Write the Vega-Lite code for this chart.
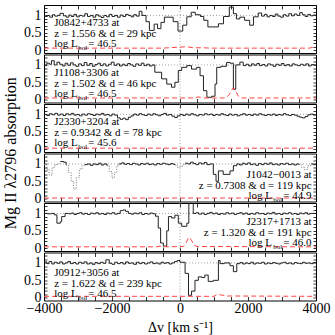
{
"$schema":"https://vega.github.io/schema/vega-lite/v6.json",
"padding":{"left":1,"top":0,"right":4,"bottom":0},
"autosize":{"type":"pad"},
"bounds":"flush",
"spacing":1.5,
"config":{"view":{"stroke":"#000","strokeWidth":1},"axis":{"domain":false,"grid":false,"tickColor":"#000","tickWidth":0.8,"labelFont":"Liberation Serif","labelFontSize":14,"labelColor":"#000","titleFont":"Liberation Serif","titleFontWeight":"normal","titleColor":"#000","labelOverlap":false,"labelFlush":false},"text":{"font":"Liberation Serif","color":"#000","baseline":"top"}},
"datasets":{
"one":[{}],
"flux":[
{"p":1,"v":-4000,"f":0.97},{"p":1,"v":-3900,"f":1.0},{"p":1,"v":-3830,"f":0.95},{"p":1,"v":-3750,"f":1.02},{"p":1,"v":-3680,"f":0.98},{"p":1,"v":-3600,"f":1.0},{"p":1,"v":-3530,"f":1.06},{"p":1,"v":-3430,"f":0.99},{"p":1,"v":-3350,"f":0.95},{"p":1,"v":-3270,"f":1.01},{"p":1,"v":-3200,"f":0.97},{"p":1,"v":-3120,"f":1.03},{"p":1,"v":-3040,"f":0.96},{"p":1,"v":-2960,"f":1.0},{"p":1,"v":-2880,"f":0.98},{"p":1,"v":-2800,"f":1.05},{"p":1,"v":-2720,"f":0.97},{"p":1,"v":-2640,"f":1.0},{"p":1,"v":-2560,"f":0.95},{"p":1,"v":-2480,"f":1.02},{"p":1,"v":-2400,"f":0.98},{"p":1,"v":-2320,"f":0.94},{"p":1,"v":-2240,"f":1.0},{"p":1,"v":-2160,"f":0.96},{"p":1,"v":-2080,"f":1.03},{"p":1,"v":-2000,"f":0.97},{"p":1,"v":-1920,"f":1.0},{"p":1,"v":-1840,"f":0.95},{"p":1,"v":-1760,"f":1.01},{"p":1,"v":-1680,"f":0.97},{"p":1,"v":-1600,"f":1.03},{"p":1,"v":-1520,"f":1.0},{"p":1,"v":-1440,"f":0.96},{"p":1,"v":-1360,"f":1.02},{"p":1,"v":-1280,"f":0.98},{"p":1,"v":-1200,"f":1.12},{"p":1,"v":-1120,"f":1.0},{"p":1,"v":-1000,"f":0.82},{"p":1,"v":-900,"f":0.57},{"p":1,"v":-760,"f":0.75},{"p":1,"v":-660,"f":0.62},{"p":1,"v":-560,"f":0.8},{"p":1,"v":-460,"f":0.95},{"p":1,"v":-200,"f":0.82},{"p":1,"v":-60,"f":0.55},{"p":1,"v":80,"f":0.72},{"p":1,"v":200,"f":0.96},{"p":1,"v":330,"f":1.09},{"p":1,"v":450,"f":1.02},{"p":1,"v":600,"f":0.97},{"p":1,"v":700,"f":0.86},{"p":1,"v":820,"f":0.67},{"p":1,"v":1130,"f":0.76},{"p":1,"v":1280,"f":0.97},{"p":1,"v":1450,"f":1.24},{"p":1,"v":1570,"f":1.05},{"p":1,"v":1660,"f":0.9},{"p":1,"v":1760,"f":0.95},{"p":1,"v":1900,"f":0.86},{"p":1,"v":2050,"f":0.72},{"p":1,"v":2160,"f":0.96},{"p":1,"v":2300,"f":1.07},{"p":1,"v":2400,"f":0.98},{"p":1,"v":2480,"f":1.03},{"p":1,"v":2560,"f":0.96},{"p":1,"v":2640,"f":1.0},{"p":1,"v":2720,"f":0.97},{"p":1,"v":2800,"f":1.04},{"p":1,"v":2880,"f":0.98},{"p":1,"v":2960,"f":0.95},{"p":1,"v":3040,"f":1.02},{"p":1,"v":3120,"f":0.98},{"p":1,"v":3200,"f":1.05},{"p":1,"v":3280,"f":0.99},{"p":1,"v":3360,"f":1.04},{"p":1,"v":3440,"f":1.0},{"p":1,"v":3520,"f":1.08},{"p":1,"v":3600,"f":1.02},{"p":1,"v":3680,"f":0.97},{"p":1,"v":3760,"f":1.03},{"p":1,"v":3840,"f":0.99},{"p":1,"v":3920,"f":1.01},{"p":1,"v":4000,"f":1.01},
{"p":2,"v":-4000,"f":0.98},{"p":2,"v":-3920,"f":1.05},{"p":2,"v":-3840,"f":1.02},{"p":2,"v":-3780,"f":1.12},{"p":2,"v":-3700,"f":1.0},{"p":2,"v":-3620,"f":1.08},{"p":2,"v":-3540,"f":1.02},{"p":2,"v":-3460,"f":0.97},{"p":2,"v":-3380,"f":1.05},{"p":2,"v":-3300,"f":0.99},{"p":2,"v":-3220,"f":1.06},{"p":2,"v":-3140,"f":1.0},{"p":2,"v":-3060,"f":0.96},{"p":2,"v":-2980,"f":1.03},{"p":2,"v":-2900,"f":0.98},{"p":2,"v":-2820,"f":1.07},{"p":2,"v":-2740,"f":0.99},{"p":2,"v":-2660,"f":1.04},{"p":2,"v":-2580,"f":0.96},{"p":2,"v":-2500,"f":1.01},{"p":2,"v":-2420,"f":1.05},{"p":2,"v":-2340,"f":0.98},{"p":2,"v":-2260,"f":1.03},{"p":2,"v":-2180,"f":0.97},{"p":2,"v":-2100,"f":1.02},{"p":2,"v":-2020,"f":1.08},{"p":2,"v":-1940,"f":0.99},{"p":2,"v":-1860,"f":1.03},{"p":2,"v":-1780,"f":0.97},{"p":2,"v":-1700,"f":1.02},{"p":2,"v":-1620,"f":0.98},{"p":2,"v":-1540,"f":1.04},{"p":2,"v":-1460,"f":1.0},{"p":2,"v":-1380,"f":0.96},{"p":2,"v":-1300,"f":1.03},{"p":2,"v":-1220,"f":0.99},{"p":2,"v":-1140,"f":1.05},{"p":2,"v":-1060,"f":0.98},{"p":2,"v":-980,"f":1.02},{"p":2,"v":-900,"f":0.97},{"p":2,"v":-820,"f":1.0},{"p":2,"v":-740,"f":0.79},{"p":2,"v":-540,"f":0.6},{"p":2,"v":-390,"f":0.45},{"p":2,"v":-250,"f":0.36},{"p":2,"v":-150,"f":0.5},{"p":2,"v":-50,"f":0.84},{"p":2,"v":50,"f":0.93},{"p":2,"v":200,"f":0.98},{"p":2,"v":340,"f":0.88},{"p":2,"v":490,"f":0.93},{"p":2,"v":590,"f":0.69},{"p":2,"v":690,"f":0.26},{"p":2,"v":790,"f":0.07},{"p":2,"v":930,"f":0.1},{"p":2,"v":1030,"f":0.45},{"p":2,"v":1080,"f":0.93},{"p":2,"v":1200,"f":0.96},{"p":2,"v":1370,"f":1.07},{"p":2,"v":1470,"f":1.05},{"p":2,"v":1570,"f":0.3},{"p":2,"v":1640,"f":1.0},{"p":2,"v":1760,"f":1.08},{"p":2,"v":1860,"f":0.98},{"p":2,"v":1940,"f":1.02},{"p":2,"v":2020,"f":0.97},{"p":2,"v":2100,"f":1.03},{"p":2,"v":2180,"f":0.99},{"p":2,"v":2260,"f":1.04},{"p":2,"v":2340,"f":0.98},{"p":2,"v":2420,"f":1.01},{"p":2,"v":2500,"f":0.97},{"p":2,"v":2580,"f":1.03},{"p":2,"v":2660,"f":1.0},{"p":2,"v":2740,"f":0.96},{"p":2,"v":2820,"f":1.02},{"p":2,"v":2900,"f":0.99},{"p":2,"v":2980,"f":1.04},{"p":2,"v":3060,"f":0.98},{"p":2,"v":3140,"f":1.01},{"p":2,"v":3220,"f":0.97},{"p":2,"v":3300,"f":1.03},{"p":2,"v":3380,"f":1.0},{"p":2,"v":3460,"f":0.98},{"p":2,"v":3540,"f":1.02},{"p":2,"v":3620,"f":0.99},{"p":2,"v":3700,"f":1.03},{"p":2,"v":3780,"f":0.97},{"p":2,"v":3860,"f":1.01},{"p":2,"v":3940,"f":0.99},{"p":2,"v":4000,"f":0.99},
{"p":3,"v":-4000,"f":1.0},{"p":3,"v":-3920,"f":0.97},{"p":3,"v":-3840,"f":1.02},{"p":3,"v":-3760,"f":0.99},{"p":3,"v":-3680,"f":1.03},{"p":3,"v":-3600,"f":0.98},{"p":3,"v":-3520,"f":1.01},{"p":3,"v":-3440,"f":0.97},{"p":3,"v":-3360,"f":1.02},{"p":3,"v":-3280,"f":0.99},{"p":3,"v":-3200,"f":1.03},{"p":3,"v":-3120,"f":0.98},{"p":3,"v":-3040,"f":1.0},{"p":3,"v":-2960,"f":0.96},{"p":3,"v":-2880,"f":1.01},{"p":3,"v":-2800,"f":0.98},{"p":3,"v":-2720,"f":1.02},{"p":3,"v":-2640,"f":1.0},{"p":3,"v":-2560,"f":0.97},{"p":3,"v":-2480,"f":1.01},{"p":3,"v":-2400,"f":0.99},{"p":3,"v":-2320,"f":1.03},{"p":3,"v":-2240,"f":0.98},{"p":3,"v":-2160,"f":1.0},{"p":3,"v":-2080,"f":0.96},{"p":3,"v":-2000,"f":1.01},{"p":3,"v":-1920,"f":0.98},{"p":3,"v":-1840,"f":0.9},{"p":3,"v":-1760,"f":0.86},{"p":3,"v":-1680,"f":0.89},{"p":3,"v":-1600,"f":0.85},{"p":3,"v":-1520,"f":0.92},{"p":3,"v":-1440,"f":0.96},{"p":3,"v":-1360,"f":1.01},{"p":3,"v":-1280,"f":0.98},{"p":3,"v":-1200,"f":1.02},{"p":3,"v":-1120,"f":0.99},{"p":3,"v":-1040,"f":0.97},{"p":3,"v":-960,"f":1.01},{"p":3,"v":-880,"f":0.98},{"p":3,"v":-800,"f":1.02},{"p":3,"v":-720,"f":0.99},{"p":3,"v":-640,"f":0.96},{"p":3,"v":-560,"f":1.0},{"p":3,"v":-480,"f":1.03},{"p":3,"v":-400,"f":0.98},{"p":3,"v":-320,"f":1.0},{"p":3,"v":-240,"f":0.95},{"p":3,"v":-160,"f":0.91},{"p":3,"v":-80,"f":0.96},{"p":3,"v":0,"f":1.0},{"p":3,"v":80,"f":0.97},{"p":3,"v":160,"f":1.01},{"p":3,"v":240,"f":0.98},{"p":3,"v":320,"f":1.02},{"p":3,"v":400,"f":0.99},{"p":3,"v":480,"f":0.96},{"p":3,"v":560,"f":1.0},{"p":3,"v":640,"f":0.98},{"p":3,"v":720,"f":1.02},{"p":3,"v":800,"f":0.99},{"p":3,"v":880,"f":1.01},{"p":3,"v":960,"f":0.97},{"p":3,"v":1040,"f":1.0},{"p":3,"v":1120,"f":0.98},{"p":3,"v":1200,"f":1.02},{"p":3,"v":1280,"f":0.99},{"p":3,"v":1360,"f":0.97},{"p":3,"v":1440,"f":1.01},{"p":3,"v":1520,"f":0.98},{"p":3,"v":1600,"f":1.0},{"p":3,"v":1680,"f":0.96},{"p":3,"v":1760,"f":0.99},{"p":3,"v":1840,"f":1.02},{"p":3,"v":1920,"f":0.98},{"p":3,"v":2000,"f":1.0},{"p":3,"v":2080,"f":0.97},{"p":3,"v":2160,"f":1.01},{"p":3,"v":2240,"f":0.98},{"p":3,"v":2320,"f":1.02},{"p":3,"v":2400,"f":0.99},{"p":3,"v":2480,"f":0.97},{"p":3,"v":2560,"f":1.0},{"p":3,"v":2640,"f":0.98},{"p":3,"v":2720,"f":1.01},{"p":3,"v":2800,"f":0.97},{"p":3,"v":2880,"f":1.0},{"p":3,"v":2960,"f":0.98},{"p":3,"v":3040,"f":1.02},{"p":3,"v":3120,"f":0.99},{"p":3,"v":3200,"f":0.97},{"p":3,"v":3280,"f":1.0},{"p":3,"v":3360,"f":0.98},{"p":3,"v":3440,"f":0.95},{"p":3,"v":3520,"f":0.92},{"p":3,"v":3600,"f":0.9},{"p":3,"v":3680,"f":0.94},{"p":3,"v":3760,"f":0.99},{"p":3,"v":3840,"f":1.01},{"p":3,"v":3920,"f":0.98},{"p":3,"v":4000,"f":0.98},
{"p":4,"g":"d1","m":1,"v":-4000,"f":0.98},{"p":4,"g":"d1","m":1,"v":-3920,"f":0.85},{"p":4,"g":"d1","m":1,"v":-3850,"f":0.68},{"p":4,"g":"d1","m":1,"v":-3760,"f":0.9},{"p":4,"g":"d1","m":1,"v":-3680,"f":0.98},{"p":4,"g":"d1","m":1,"v":-3600,"f":1.0},{"p":4,"g":"d1","m":1,"v":-3520,"f":1.07},
{"p":4,"g":"s1","v":-3520,"f":1.07},{"p":4,"g":"s1","v":-3420,"f":1.05},{"p":4,"g":"s1","v":-3350,"f":0.97},
{"p":4,"g":"d2","m":1,"v":-3350,"f":0.97},{"p":4,"g":"d2","m":1,"v":-3280,"f":0.75},{"p":4,"g":"d2","m":1,"v":-3200,"f":0.5},{"p":4,"g":"d2","m":1,"v":-3130,"f":0.28},{"p":4,"g":"d2","m":1,"v":-3050,"f":0.6},{"p":4,"g":"d2","m":1,"v":-2960,"f":0.85},{"p":4,"g":"d2","m":1,"v":-2880,"f":0.95},{"p":4,"g":"d2","m":1,"v":-2800,"f":0.98},
{"p":4,"g":"s2","v":-2800,"f":0.98},{"p":4,"g":"s2","v":-2720,"f":1.0},{"p":4,"g":"s2","v":-2640,"f":0.96},{"p":4,"g":"s2","v":-2560,"f":1.0},{"p":4,"g":"s2","v":-2480,"f":0.98},{"p":4,"g":"s2","v":-2400,"f":1.02},{"p":4,"g":"s2","v":-2320,"f":0.97},{"p":4,"g":"s2","v":-2240,"f":1.0},{"p":4,"g":"s2","v":-2150,"f":0.95},
{"p":4,"g":"d3","m":1,"v":-2150,"f":0.95},{"p":4,"g":"d3","m":1,"v":-2080,"f":0.78},{"p":4,"g":"d3","m":1,"v":-2000,"f":0.6},{"p":4,"g":"d3","m":1,"v":-1930,"f":0.75},{"p":4,"g":"d3","m":1,"v":-1860,"f":0.95},{"p":4,"g":"d3","m":1,"v":-1800,"f":1.0},
{"p":4,"g":"s3","v":-1800,"f":1.0},{"p":4,"g":"s3","v":-1720,"f":1.03},{"p":4,"g":"s3","v":-1640,"f":0.99},{"p":4,"g":"s3","v":-1560,"f":1.01},{"p":4,"g":"s3","v":-1480,"f":0.98},{"p":4,"g":"s3","v":-1400,"f":1.02},{"p":4,"g":"s3","v":-1320,"f":1.0},{"p":4,"g":"s3","v":-1240,"f":0.97},{"p":4,"g":"s3","v":-1160,"f":1.01},{"p":4,"g":"s3","v":-1080,"f":0.99},{"p":4,"g":"s3","v":-1000,"f":1.02},{"p":4,"g":"s3","v":-920,"f":0.98},{"p":4,"g":"s3","v":-840,"f":1.0},{"p":4,"g":"s3","v":-760,"f":0.97},{"p":4,"g":"s3","v":-680,"f":1.01},{"p":4,"g":"s3","v":-600,"f":0.99},{"p":4,"g":"s3","v":-520,"f":1.02},{"p":4,"g":"s3","v":-440,"f":1.0},{"p":4,"g":"s3","v":-360,"f":0.98},{"p":4,"g":"s3","v":-280,"f":1.01},{"p":4,"g":"s3","v":-200,"f":0.99},{"p":4,"g":"s3","v":-150,"f":0.97},
{"p":4,"g":"d4","m":1,"v":-150,"f":0.97},{"p":4,"g":"d4","m":1,"v":-80,"f":0.9},{"p":4,"g":"d4","m":1,"v":0,"f":0.93},{"p":4,"g":"d4","m":1,"v":80,"f":0.97},{"p":4,"g":"d4","m":1,"v":150,"f":1.02},
{"p":4,"g":"s4","v":150,"f":1.02},{"p":4,"g":"s4","v":230,"f":1.0},{"p":4,"g":"s4","v":310,"f":1.05},{"p":4,"g":"s4","v":390,"f":1.01},{"p":4,"g":"s4","v":470,"f":0.98},{"p":4,"g":"s4","v":550,"f":1.03},{"p":4,"g":"s4","v":630,"f":1.0},{"p":4,"g":"s4","v":710,"f":1.04},{"p":4,"g":"s4","v":790,"f":0.98},{"p":4,"g":"s4","v":880,"f":1.0},{"p":4,"g":"s4","v":980,"f":0.7},{"p":4,"g":"s4","v":1060,"f":0.5},{"p":4,"g":"s4","v":1130,"f":0.8},{"p":4,"g":"s4","v":1270,"f":0.7},{"p":4,"g":"s4","v":1470,"f":0.8},{"p":4,"g":"s4","v":1570,"f":0.95},{"p":4,"g":"s4","v":1670,"f":1.0},{"p":4,"g":"s4","v":1750,"f":0.97},{"p":4,"g":"s4","v":1830,"f":1.02},{"p":4,"g":"s4","v":1910,"f":0.99},{"p":4,"g":"s4","v":1990,"f":1.03},{"p":4,"g":"s4","v":2070,"f":0.98},{"p":4,"g":"s4","v":2150,"f":1.0},{"p":4,"g":"s4","v":2230,"f":0.96},{"p":4,"g":"s4","v":2310,"f":1.01},{"p":4,"g":"s4","v":2390,"f":0.98},{"p":4,"g":"s4","v":2470,"f":1.02},{"p":4,"g":"s4","v":2550,"f":0.99},{"p":4,"g":"s4","v":2630,"f":1.03},{"p":4,"g":"s4","v":2710,"f":0.98},{"p":4,"g":"s4","v":2790,"f":1.0},{"p":4,"g":"s4","v":2870,"f":0.97},{"p":4,"g":"s4","v":2950,"f":1.01},{"p":4,"g":"s4","v":3030,"f":0.99},{"p":4,"g":"s4","v":3110,"f":1.02},{"p":4,"g":"s4","v":3190,"f":0.98},{"p":4,"g":"s4","v":3270,"f":1.0},{"p":4,"g":"s4","v":3350,"f":0.97},{"p":4,"g":"s4","v":3430,"f":1.0},{"p":4,"g":"s4","v":3500,"f":0.98},
{"p":4,"g":"d5","m":1,"v":3500,"f":0.98},{"p":4,"g":"d5","m":1,"v":3580,"f":0.9},{"p":4,"g":"d5","m":1,"v":3660,"f":0.84},{"p":4,"g":"d5","m":1,"v":3760,"f":0.95},{"p":4,"g":"d5","m":1,"v":3850,"f":1.0},
{"p":4,"g":"s5","v":3850,"f":1.0},{"p":4,"g":"s5","v":3920,"f":0.98},{"p":4,"g":"s5","v":4000,"f":0.98},
{"p":5,"v":-4000,"f":1.0},{"p":5,"v":-3900,"f":0.99},{"p":5,"v":-3780,"f":1.0},{"p":5,"v":-3700,"f":0.96},{"p":5,"v":-3620,"f":0.72},{"p":5,"v":-3520,"f":0.76},{"p":5,"v":-3480,"f":0.91},{"p":5,"v":-3380,"f":1.0},{"p":5,"v":-3280,"f":0.99},{"p":5,"v":-3200,"f":1.01},{"p":5,"v":-3120,"f":0.97},{"p":5,"v":-3040,"f":1.0},{"p":5,"v":-2960,"f":1.02},{"p":5,"v":-2880,"f":0.98},{"p":5,"v":-2800,"f":1.0},{"p":5,"v":-2720,"f":0.97},{"p":5,"v":-2640,"f":1.01},{"p":5,"v":-2560,"f":0.99},{"p":5,"v":-2480,"f":1.02},{"p":5,"v":-2400,"f":0.98},{"p":5,"v":-2320,"f":1.0},{"p":5,"v":-2240,"f":0.97},{"p":5,"v":-2160,"f":1.01},{"p":5,"v":-2080,"f":0.99},{"p":5,"v":-2000,"f":1.02},{"p":5,"v":-1920,"f":0.98},{"p":5,"v":-1840,"f":1.0},{"p":5,"v":-1760,"f":1.08},{"p":5,"v":-1680,"f":1.1},{"p":5,"v":-1600,"f":1.06},{"p":5,"v":-1520,"f":1.0},{"p":5,"v":-1440,"f":0.98},{"p":5,"v":-1360,"f":1.01},{"p":5,"v":-1280,"f":0.99},{"p":5,"v":-1200,"f":1.02},{"p":5,"v":-1120,"f":0.97},{"p":5,"v":-1040,"f":1.0},{"p":5,"v":-960,"f":0.98},{"p":5,"v":-880,"f":1.01},{"p":5,"v":-800,"f":0.99},{"p":5,"v":-720,"f":0.92},{"p":5,"v":-640,"f":0.58},{"p":5,"v":-570,"f":0.15},{"p":5,"v":-490,"f":0.06},{"p":5,"v":-390,"f":0.5},{"p":5,"v":-340,"f":0.91},{"p":5,"v":-250,"f":0.87},{"p":5,"v":-150,"f":0.95},{"p":5,"v":-50,"f":0.72},{"p":5,"v":50,"f":0.63},{"p":5,"v":200,"f":0.72},{"p":5,"v":260,"f":1.6},{"p":5,"v":390,"f":1.0},{"p":5,"v":470,"f":1.02},{"p":5,"v":550,"f":0.98},{"p":5,"v":630,"f":1.01},{"p":5,"v":710,"f":0.97},{"p":5,"v":790,"f":1.0},{"p":5,"v":870,"f":1.03},{"p":5,"v":950,"f":0.99},{"p":5,"v":1030,"f":1.01},{"p":5,"v":1110,"f":0.97},{"p":5,"v":1190,"f":1.0},{"p":5,"v":1270,"f":0.98},{"p":5,"v":1350,"f":1.02},{"p":5,"v":1430,"f":0.99},{"p":5,"v":1510,"f":1.01},{"p":5,"v":1590,"f":0.97},{"p":5,"v":1670,"f":1.0},{"p":5,"v":1750,"f":1.02},{"p":5,"v":1830,"f":0.98},{"p":5,"v":1910,"f":1.01},{"p":5,"v":1990,"f":0.97},{"p":5,"v":2070,"f":1.0},{"p":5,"v":2150,"f":0.98},{"p":5,"v":2230,"f":1.02},{"p":5,"v":2310,"f":0.99},{"p":5,"v":2390,"f":1.0},{"p":5,"v":2470,"f":0.97},{"p":5,"v":2550,"f":1.01},{"p":5,"v":2630,"f":0.99},{"p":5,"v":2710,"f":1.03},{"p":5,"v":2790,"f":0.98},{"p":5,"v":2870,"f":1.0},{"p":5,"v":2950,"f":0.97},{"p":5,"v":3030,"f":1.01},{"p":5,"v":3110,"f":0.99},{"p":5,"v":3190,"f":1.02},{"p":5,"v":3270,"f":0.98},{"p":5,"v":3350,"f":1.0},{"p":5,"v":3430,"f":0.97},{"p":5,"v":3510,"f":1.01},{"p":5,"v":3590,"f":0.99},{"p":5,"v":3670,"f":1.02},{"p":5,"v":3750,"f":0.98},{"p":5,"v":3830,"f":1.0},{"p":5,"v":3910,"f":1.0},{"p":5,"v":4000,"f":1.0},
{"p":6,"v":-4000,"f":1.03},{"p":6,"v":-3920,"f":0.98},{"p":6,"v":-3850,"f":1.04},{"p":6,"v":-3770,"f":0.97},{"p":6,"v":-3700,"f":1.02},{"p":6,"v":-3620,"f":0.99},{"p":6,"v":-3540,"f":1.03},{"p":6,"v":-3460,"f":0.97},{"p":6,"v":-3380,"f":1.0},{"p":6,"v":-3300,"f":1.04},{"p":6,"v":-3220,"f":0.98},{"p":6,"v":-3140,"f":1.01},{"p":6,"v":-3060,"f":0.97},{"p":6,"v":-2980,"f":1.02},{"p":6,"v":-2900,"f":0.99},{"p":6,"v":-2820,"f":1.03},{"p":6,"v":-2740,"f":0.97},{"p":6,"v":-2660,"f":1.0},{"p":6,"v":-2580,"f":0.96},{"p":6,"v":-2500,"f":1.01},{"p":6,"v":-2420,"f":0.98},{"p":6,"v":-2340,"f":1.02},{"p":6,"v":-2260,"f":0.99},{"p":6,"v":-2180,"f":1.09},{"p":6,"v":-2080,"f":0.99},{"p":6,"v":-2000,"f":0.96},{"p":6,"v":-1920,"f":1.02},{"p":6,"v":-1840,"f":0.98},{"p":6,"v":-1760,"f":1.01},{"p":6,"v":-1680,"f":0.97},{"p":6,"v":-1600,"f":1.03},{"p":6,"v":-1520,"f":0.99},{"p":6,"v":-1440,"f":1.0},{"p":6,"v":-1360,"f":0.96},{"p":6,"v":-1280,"f":1.02},{"p":6,"v":-1200,"f":0.98},{"p":6,"v":-1120,"f":1.01},{"p":6,"v":-1040,"f":0.97},{"p":6,"v":-960,"f":1.0},{"p":6,"v":-880,"f":1.03},{"p":6,"v":-800,"f":0.98},{"p":6,"v":-720,"f":1.0},{"p":6,"v":-640,"f":0.97},{"p":6,"v":-560,"f":1.02},{"p":6,"v":-480,"f":0.99},{"p":6,"v":-400,"f":1.01},{"p":6,"v":-320,"f":0.97},{"p":6,"v":-240,"f":1.0},{"p":6,"v":-160,"f":1.04},{"p":6,"v":-80,"f":1.07},{"p":6,"v":0,"f":1.02},{"p":6,"v":150,"f":0.7},{"p":6,"v":250,"f":0.07},{"p":6,"v":340,"f":0.19},{"p":6,"v":440,"f":0.5},{"p":6,"v":540,"f":0.6},{"p":6,"v":640,"f":0.58},{"p":6,"v":730,"f":0.65},{"p":6,"v":830,"f":0.47},{"p":6,"v":980,"f":0.5},{"p":6,"v":1130,"f":1.07},{"p":6,"v":1180,"f":0.98},{"p":6,"v":1300,"f":1.0},{"p":6,"v":1470,"f":0.92},{"p":6,"v":1570,"f":0.75},{"p":6,"v":1670,"f":0.98},{"p":6,"v":1760,"f":1.01},{"p":6,"v":1840,"f":0.97},{"p":6,"v":1920,"f":1.0},{"p":6,"v":2000,"f":0.98},{"p":6,"v":2080,"f":1.02},{"p":6,"v":2160,"f":0.97},{"p":6,"v":2240,"f":1.0},{"p":6,"v":2320,"f":0.99},{"p":6,"v":2400,"f":1.02},{"p":6,"v":2480,"f":0.97},{"p":6,"v":2560,"f":1.0},{"p":6,"v":2640,"f":0.98},{"p":6,"v":2720,"f":1.01},{"p":6,"v":2800,"f":0.99},{"p":6,"v":2880,"f":0.97},{"p":6,"v":2960,"f":1.0},{"p":6,"v":3040,"f":1.02},{"p":6,"v":3120,"f":0.98},{"p":6,"v":3200,"f":1.0},{"p":6,"v":3280,"f":0.97},{"p":6,"v":3360,"f":1.01},{"p":6,"v":3440,"f":0.99},{"p":6,"v":3520,"f":0.98},{"p":6,"v":3600,"f":1.02},{"p":6,"v":3680,"f":0.99},{"p":6,"v":3760,"f":1.0},{"p":6,"v":3840,"f":0.98},{"p":6,"v":3920,"f":1.01},{"p":6,"v":4000,"f":1.01}
],
"err":[
{"p":1,"v":-4000,"e":0.06},{"p":1,"v":-500,"e":0.06},{"p":1,"v":0,"e":0.09},{"p":1,"v":200,"e":0.1},{"p":1,"v":400,"e":0.07},{"p":1,"v":700,"e":0.07},{"p":1,"v":900,"e":0.06},{"p":1,"v":3800,"e":0.06},{"p":1,"v":3950,"e":0.09},{"p":1,"v":4000,"e":0.1},
{"p":2,"v":-4000,"e":0.05},{"p":2,"v":400,"e":0.05},{"p":2,"v":550,"e":0.08},{"p":2,"v":700,"e":0.05},{"p":2,"v":1350,"e":0.05},{"p":2,"v":1450,"e":0.15},{"p":2,"v":1550,"e":0.33},{"p":2,"v":1620,"e":0.3},{"p":2,"v":1700,"e":0.12},{"p":2,"v":1800,"e":0.05},{"p":2,"v":4000,"e":0.05},
{"p":3,"v":-4000,"e":0.03},{"p":3,"v":4000,"e":0.03},
{"p":4,"v":-4000,"e":0.02},{"p":4,"v":4000,"e":0.02},
{"p":5,"v":-4000,"e":0.04},{"p":5,"v":-700,"e":0.04},{"p":5,"v":-550,"e":0.06},{"p":5,"v":-400,"e":0.04},{"p":5,"v":100,"e":0.05},{"p":5,"v":180,"e":0.15},{"p":5,"v":250,"e":0.31},{"p":5,"v":330,"e":0.25},{"p":5,"v":400,"e":0.1},{"p":5,"v":500,"e":0.05},{"p":5,"v":4000,"e":0.04},
{"p":6,"v":-4000,"e":0.04},{"p":6,"v":1000,"e":0.04},{"p":6,"v":1100,"e":0.1},{"p":6,"v":1200,"e":0.08},{"p":6,"v":1400,"e":0.05},{"p":6,"v":4000,"e":0.04}
]
},
"vconcat":[
{"width":272,"height":48,"resolve":{"axis":{"x":"independent","y":"independent"}},"layer":[
{"data":{"name":"one"},"mark":{"type":"rule","color":"#888","strokeDash":[1,2],"strokeWidth":0.8},"encoding":{"y":{"datum":1,"axis":null}}},
{"data":{"name":"one"},"mark":{"type":"rule","color":"#888","strokeDash":[1,2],"strokeWidth":0.8},"encoding":{"x":{"datum":0,"axis":null}}},
{"data":{"name":"flux"},"transform":[{"filter":"datum.p==1 && !datum.m"}],"mark":{"type":"line","interpolate":"step-after","color":"#222","strokeWidth":1,"clip":true},"encoding":{"x":{"field":"v","type":"quantitative","scale":{"domain":[-4000,4000],"nice":false},"axis":{"orient":"bottom","values":[-4000,-3500,-3000,-2500,-2000,-1500,-1000,-500,0,500,1000,1500,2000,2500,3000,3500,4000],"labels":false,"title":null,"tickSize":-4}},"y":{"field":"f","type":"quantitative","scale":{"domain":[-0.08,1.3],"nice":false,"zero":false},"axis":{"orient":"left","values":[0,0.1,0.2,0.3,0.4,0.5,0.6,0.7,0.8,0.9,1,1.1,1.2],"labelExpr":"datum.value==0?'0':datum.value==0.5?'0.5':datum.value==1?'1':''","tickSize":-3,"labelPadding":6,"title":null}},"detail":{"field":"g"}}},
{"data":{"name":"flux"},"transform":[{"filter":"datum.p==1 && datum.m"}],"mark":{"type":"line","interpolate":"step-after","color":"#777","strokeDash":[1,1.5],"strokeWidth":1,"clip":true},"encoding":{"x":{"field":"v","type":"quantitative","scale":{"domain":[-4000,4000],"nice":false},"axis":{"orient":"top","values":[-4000,-3500,-3000,-2500,-2000,-1500,-1000,-500,0,500,1000,1500,2000,2500,3000,3500,4000],"labels":false,"title":null,"tickSize":-4}},"y":{"field":"f","type":"quantitative","scale":{"domain":[-0.08,1.3],"nice":false,"zero":false},"axis":{"orient":"right","values":[0,0.1,0.2,0.3,0.4,0.5,0.6,0.7,0.8,0.9,1,1.1,1.2],"labels":false,"tickSize":-3,"title":null}},"detail":{"field":"g"}}},
{"data":{"name":"err"},"transform":[{"filter":"datum.p==1"}],"mark":{"type":"line","color":"#ff4444","strokeDash":[5,3],"strokeWidth":1,"clip":true},"encoding":{"x":{"field":"v","type":"quantitative","axis":null},"y":{"field":"e","type":"quantitative","axis":null}}},
{"data":{"name":"one"},"mark":{"type":"text","align":"left","fontSize":11,"lineHeight":10.5},"encoding":{"x":{"datum":-3700,"axis":null},"y":{"datum":0.95,"axis":null},"text":{"value":["J0842+4733 at","z = 1.556 & d = 29 kpc"]}}},
{"data":{"name":"one"},"mark":{"type":"text","align":"left","fontSize":11,"dy":21},"encoding":{"x":{"datum":-3700,"axis":null},"y":{"datum":0.95,"axis":null},"text":{"value":"log L"}}},
{"data":{"name":"one"},"mark":{"type":"text","align":"left","fontSize":7,"dx":24,"dy":26.5},"encoding":{"x":{"datum":-3700,"axis":null},"y":{"datum":0.95,"axis":null},"text":{"value":"bol"}}},
{"data":{"name":"one"},"mark":{"type":"text","align":"left","fontSize":11,"dx":34,"dy":21},"encoding":{"x":{"datum":-3700,"axis":null},"y":{"datum":0.95,"axis":null},"text":{"value":"= 46.5"}}}
]},
{"width":272,"height":48,"resolve":{"axis":{"x":"independent","y":"independent"}},"layer":[
{"data":{"name":"one"},"mark":{"type":"rule","color":"#888","strokeDash":[1,2],"strokeWidth":0.8},"encoding":{"y":{"datum":1,"axis":null}}},
{"data":{"name":"one"},"mark":{"type":"rule","color":"#888","strokeDash":[1,2],"strokeWidth":0.8},"encoding":{"x":{"datum":0,"axis":null}}},
{"data":{"name":"flux"},"transform":[{"filter":"datum.p==2 && !datum.m"}],"mark":{"type":"line","interpolate":"step-after","color":"#222","strokeWidth":1,"clip":true},"encoding":{"x":{"field":"v","type":"quantitative","scale":{"domain":[-4000,4000],"nice":false},"axis":{"orient":"bottom","values":[-4000,-3500,-3000,-2500,-2000,-1500,-1000,-500,0,500,1000,1500,2000,2500,3000,3500,4000],"labels":false,"title":null,"tickSize":-4}},"y":{"field":"f","type":"quantitative","scale":{"domain":[-0.08,1.3],"nice":false,"zero":false},"axis":{"orient":"left","values":[0,0.1,0.2,0.3,0.4,0.5,0.6,0.7,0.8,0.9,1,1.1,1.2],"labelExpr":"datum.value==0?'0':datum.value==0.5?'0.5':datum.value==1?'1':''","tickSize":-3,"labelPadding":6,"title":null}},"detail":{"field":"g"}}},
{"data":{"name":"flux"},"transform":[{"filter":"datum.p==2 && datum.m"}],"mark":{"type":"line","interpolate":"step-after","color":"#777","strokeDash":[1,1.5],"strokeWidth":1,"clip":true},"encoding":{"x":{"field":"v","type":"quantitative","scale":{"domain":[-4000,4000],"nice":false},"axis":{"orient":"top","values":[-4000,-3500,-3000,-2500,-2000,-1500,-1000,-500,0,500,1000,1500,2000,2500,3000,3500,4000],"labels":false,"title":null,"tickSize":-4}},"y":{"field":"f","type":"quantitative","scale":{"domain":[-0.08,1.3],"nice":false,"zero":false},"axis":{"orient":"right","values":[0,0.1,0.2,0.3,0.4,0.5,0.6,0.7,0.8,0.9,1,1.1,1.2],"labels":false,"tickSize":-3,"title":null}},"detail":{"field":"g"}}},
{"data":{"name":"err"},"transform":[{"filter":"datum.p==2"}],"mark":{"type":"line","color":"#ff4444","strokeDash":[5,3],"strokeWidth":1,"clip":true},"encoding":{"x":{"field":"v","type":"quantitative","axis":null},"y":{"field":"e","type":"quantitative","axis":null}}},
{"data":{"name":"one"},"mark":{"type":"text","align":"left","fontSize":11,"lineHeight":10.5},"encoding":{"x":{"datum":-3700,"axis":null},"y":{"datum":0.94,"axis":null},"text":{"value":["J1108+3306 at","z = 1.502 & d = 46 kpc"]}}},
{"data":{"name":"one"},"mark":{"type":"text","align":"left","fontSize":11,"dy":21},"encoding":{"x":{"datum":-3700,"axis":null},"y":{"datum":0.94,"axis":null},"text":{"value":"log L"}}},
{"data":{"name":"one"},"mark":{"type":"text","align":"left","fontSize":7,"dx":24,"dy":26.5},"encoding":{"x":{"datum":-3700,"axis":null},"y":{"datum":0.94,"axis":null},"text":{"value":"bol"}}},
{"data":{"name":"one"},"mark":{"type":"text","align":"left","fontSize":11,"dx":34,"dy":21},"encoding":{"x":{"datum":-3700,"axis":null},"y":{"datum":0.94,"axis":null},"text":{"value":"= 46.5"}}}
]},
{"width":272,"height":48,"resolve":{"axis":{"x":"independent","y":"independent"}},"layer":[
{"data":{"name":"one"},"mark":{"type":"rule","color":"#888","strokeDash":[1,2],"strokeWidth":0.8},"encoding":{"y":{"datum":1,"axis":null}}},
{"data":{"name":"one"},"mark":{"type":"rule","color":"#888","strokeDash":[1,2],"strokeWidth":0.8},"encoding":{"x":{"datum":0,"axis":null}}},
{"data":{"name":"flux"},"transform":[{"filter":"datum.p==3 && !datum.m"}],"mark":{"type":"line","interpolate":"step-after","color":"#222","strokeWidth":1,"clip":true},"encoding":{"x":{"field":"v","type":"quantitative","scale":{"domain":[-4000,4000],"nice":false},"axis":{"orient":"bottom","values":[-4000,-3500,-3000,-2500,-2000,-1500,-1000,-500,0,500,1000,1500,2000,2500,3000,3500,4000],"labels":false,"title":null,"tickSize":-4}},"y":{"field":"f","type":"quantitative","scale":{"domain":[-0.08,1.3],"nice":false,"zero":false},"axis":{"orient":"left","values":[0,0.1,0.2,0.3,0.4,0.5,0.6,0.7,0.8,0.9,1,1.1,1.2],"labelExpr":"datum.value==0?'0':datum.value==0.5?'0.5':datum.value==1?'1':''","tickSize":-3,"labelPadding":6,"title":"Mg II λ2796 absorption","titleFontSize":16,"titleY":48.75,"titlePadding":5}},"detail":{"field":"g"}}},
{"data":{"name":"flux"},"transform":[{"filter":"datum.p==3 && datum.m"}],"mark":{"type":"line","interpolate":"step-after","color":"#777","strokeDash":[1,1.5],"strokeWidth":1,"clip":true},"encoding":{"x":{"field":"v","type":"quantitative","scale":{"domain":[-4000,4000],"nice":false},"axis":{"orient":"top","values":[-4000,-3500,-3000,-2500,-2000,-1500,-1000,-500,0,500,1000,1500,2000,2500,3000,3500,4000],"labels":false,"title":null,"tickSize":-4}},"y":{"field":"f","type":"quantitative","scale":{"domain":[-0.08,1.3],"nice":false,"zero":false},"axis":{"orient":"right","values":[0,0.1,0.2,0.3,0.4,0.5,0.6,0.7,0.8,0.9,1,1.1,1.2],"labels":false,"tickSize":-3,"title":null}},"detail":{"field":"g"}}},
{"data":{"name":"err"},"transform":[{"filter":"datum.p==3"}],"mark":{"type":"line","color":"#ff4444","strokeDash":[5,3],"strokeWidth":1,"clip":true},"encoding":{"x":{"field":"v","type":"quantitative","axis":null},"y":{"field":"e","type":"quantitative","axis":null}}},
{"data":{"name":"one"},"mark":{"type":"text","align":"left","fontSize":11,"lineHeight":10.5},"encoding":{"x":{"datum":-3700,"axis":null},"y":{"datum":0.95,"axis":null},"text":{"value":["J2330+3204 at","z = 0.9342 & d = 78 kpc"]}}},
{"data":{"name":"one"},"mark":{"type":"text","align":"left","fontSize":11,"dy":21},"encoding":{"x":{"datum":-3700,"axis":null},"y":{"datum":0.95,"axis":null},"text":{"value":"log L"}}},
{"data":{"name":"one"},"mark":{"type":"text","align":"left","fontSize":7,"dx":24,"dy":26.5},"encoding":{"x":{"datum":-3700,"axis":null},"y":{"datum":0.95,"axis":null},"text":{"value":"bol"}}},
{"data":{"name":"one"},"mark":{"type":"text","align":"left","fontSize":11,"dx":34,"dy":21},"encoding":{"x":{"datum":-3700,"axis":null},"y":{"datum":0.95,"axis":null},"text":{"value":"= 45.6"}}}
]},
{"width":272,"height":48,"resolve":{"axis":{"x":"independent","y":"independent"}},"layer":[
{"data":{"name":"one"},"mark":{"type":"rule","color":"#888","strokeDash":[1,2],"strokeWidth":0.8},"encoding":{"y":{"datum":1,"axis":null}}},
{"data":{"name":"one"},"mark":{"type":"rule","color":"#888","strokeDash":[1,2],"strokeWidth":0.8},"encoding":{"x":{"datum":0,"axis":null}}},
{"data":{"name":"flux"},"transform":[{"filter":"datum.p==4 && !datum.m"}],"mark":{"type":"line","interpolate":"step-after","color":"#222","strokeWidth":1,"clip":true},"encoding":{"x":{"field":"v","type":"quantitative","scale":{"domain":[-4000,4000],"nice":false},"axis":{"orient":"bottom","values":[-4000,-3500,-3000,-2500,-2000,-1500,-1000,-500,0,500,1000,1500,2000,2500,3000,3500,4000],"labels":false,"title":null,"tickSize":-4}},"y":{"field":"f","type":"quantitative","scale":{"domain":[-0.08,1.3],"nice":false,"zero":false},"axis":{"orient":"left","values":[0,0.1,0.2,0.3,0.4,0.5,0.6,0.7,0.8,0.9,1,1.1,1.2],"labelExpr":"datum.value==0?'0':datum.value==0.5?'0.5':datum.value==1?'1':''","tickSize":-3,"labelPadding":6,"title":null}},"detail":{"field":"g"}}},
{"data":{"name":"flux"},"transform":[{"filter":"datum.p==4 && datum.m"}],"mark":{"type":"line","interpolate":"step-after","color":"#777","strokeDash":[1,1.5],"strokeWidth":1,"clip":true},"encoding":{"x":{"field":"v","type":"quantitative","scale":{"domain":[-4000,4000],"nice":false},"axis":{"orient":"top","values":[-4000,-3500,-3000,-2500,-2000,-1500,-1000,-500,0,500,1000,1500,2000,2500,3000,3500,4000],"labels":false,"title":null,"tickSize":-4}},"y":{"field":"f","type":"quantitative","scale":{"domain":[-0.08,1.3],"nice":false,"zero":false},"axis":{"orient":"right","values":[0,0.1,0.2,0.3,0.4,0.5,0.6,0.7,0.8,0.9,1,1.1,1.2],"labels":false,"tickSize":-3,"title":null}},"detail":{"field":"g"}}},
{"data":{"name":"err"},"transform":[{"filter":"datum.p==4"}],"mark":{"type":"line","color":"#ff4444","strokeDash":[5,3],"strokeWidth":1,"clip":true},"encoding":{"x":{"field":"v","type":"quantitative","axis":null},"y":{"field":"e","type":"quantitative","axis":null}}},
{"data":{"name":"one"},"mark":{"type":"text","align":"right","fontSize":11,"lineHeight":10.5},"encoding":{"x":{"datum":3870,"axis":null},"y":{"datum":0.85,"axis":null},"text":{"value":["J1042−0013 at","z = 0.7308 & d = 119 kpc"]}}},
{"data":{"name":"one"},"mark":{"type":"text","align":"right","fontSize":11,"dx":-39.5,"dy":21},"encoding":{"x":{"datum":3870,"axis":null},"y":{"datum":0.85,"axis":null},"text":{"value":"log L"}}},
{"data":{"name":"one"},"mark":{"type":"text","align":"right","fontSize":7,"dx":-29.5,"dy":26.5},"encoding":{"x":{"datum":3870,"axis":null},"y":{"datum":0.85,"axis":null},"text":{"value":"bol"}}},
{"data":{"name":"one"},"mark":{"type":"text","align":"right","fontSize":11,"dy":21},"encoding":{"x":{"datum":3870,"axis":null},"y":{"datum":0.85,"axis":null},"text":{"value":"= 44.9"}}}
]},
{"width":272,"height":48,"resolve":{"axis":{"x":"independent","y":"independent"}},"layer":[
{"data":{"name":"one"},"mark":{"type":"rule","color":"#888","strokeDash":[1,2],"strokeWidth":0.8},"encoding":{"y":{"datum":1,"axis":null}}},
{"data":{"name":"one"},"mark":{"type":"rule","color":"#888","strokeDash":[1,2],"strokeWidth":0.8},"encoding":{"x":{"datum":0,"axis":null}}},
{"data":{"name":"flux"},"transform":[{"filter":"datum.p==5 && !datum.m"}],"mark":{"type":"line","interpolate":"step-after","color":"#222","strokeWidth":1,"clip":true},"encoding":{"x":{"field":"v","type":"quantitative","scale":{"domain":[-4000,4000],"nice":false},"axis":{"orient":"bottom","values":[-4000,-3500,-3000,-2500,-2000,-1500,-1000,-500,0,500,1000,1500,2000,2500,3000,3500,4000],"labels":false,"title":null,"tickSize":-4}},"y":{"field":"f","type":"quantitative","scale":{"domain":[-0.08,1.3],"nice":false,"zero":false},"axis":{"orient":"left","values":[0,0.1,0.2,0.3,0.4,0.5,0.6,0.7,0.8,0.9,1,1.1,1.2],"labelExpr":"datum.value==0?'0':datum.value==0.5?'0.5':datum.value==1?'1':''","tickSize":-3,"labelPadding":6,"title":null}},"detail":{"field":"g"}}},
{"data":{"name":"flux"},"transform":[{"filter":"datum.p==5 && datum.m"}],"mark":{"type":"line","interpolate":"step-after","color":"#777","strokeDash":[1,1.5],"strokeWidth":1,"clip":true},"encoding":{"x":{"field":"v","type":"quantitative","scale":{"domain":[-4000,4000],"nice":false},"axis":{"orient":"top","values":[-4000,-3500,-3000,-2500,-2000,-1500,-1000,-500,0,500,1000,1500,2000,2500,3000,3500,4000],"labels":false,"title":null,"tickSize":-4}},"y":{"field":"f","type":"quantitative","scale":{"domain":[-0.08,1.3],"nice":false,"zero":false},"axis":{"orient":"right","values":[0,0.1,0.2,0.3,0.4,0.5,0.6,0.7,0.8,0.9,1,1.1,1.2],"labels":false,"tickSize":-3,"title":null}},"detail":{"field":"g"}}},
{"data":{"name":"err"},"transform":[{"filter":"datum.p==5"}],"mark":{"type":"line","color":"#ff4444","strokeDash":[5,3],"strokeWidth":1,"clip":true},"encoding":{"x":{"field":"v","type":"quantitative","axis":null},"y":{"field":"e","type":"quantitative","axis":null}}},
{"data":{"name":"one"},"mark":{"type":"text","align":"right","fontSize":11,"lineHeight":10.5},"encoding":{"x":{"datum":3870,"axis":null},"y":{"datum":0.92,"axis":null},"text":{"value":["J2317+1713 at","z = 1.320 & d = 191 kpc"]}}},
{"data":{"name":"one"},"mark":{"type":"text","align":"right","fontSize":11,"dx":-39.5,"dy":21},"encoding":{"x":{"datum":3870,"axis":null},"y":{"datum":0.92,"axis":null},"text":{"value":"log L"}}},
{"data":{"name":"one"},"mark":{"type":"text","align":"right","fontSize":7,"dx":-29.5,"dy":26.5},"encoding":{"x":{"datum":3870,"axis":null},"y":{"datum":0.92,"axis":null},"text":{"value":"bol"}}},
{"data":{"name":"one"},"mark":{"type":"text","align":"right","fontSize":11,"dy":21},"encoding":{"x":{"datum":3870,"axis":null},"y":{"datum":0.92,"axis":null},"text":{"value":"= 46.0"}}}
]},
{"width":272,"height":48,"resolve":{"axis":{"x":"independent","y":"independent"}},"layer":[
{"data":{"name":"one"},"mark":{"type":"rule","color":"#888","strokeDash":[1,2],"strokeWidth":0.8},"encoding":{"y":{"datum":1,"axis":null}}},
{"data":{"name":"one"},"mark":{"type":"rule","color":"#888","strokeDash":[1,2],"strokeWidth":0.8},"encoding":{"x":{"datum":0,"axis":null}}},
{"data":{"name":"flux"},"transform":[{"filter":"datum.p==6 && !datum.m"}],"mark":{"type":"line","interpolate":"step-after","color":"#222","strokeWidth":1,"clip":true},"encoding":{"x":{"field":"v","type":"quantitative","scale":{"domain":[-4000,4000],"nice":false},"axis":{"orient":"bottom","values":[-4000,-3500,-3000,-2500,-2000,-1500,-1000,-500,0,500,1000,1500,2000,2500,3000,3500,4000],"labelExpr":"datum.value==-4000?'−4000':datum.value==-2000?'−2000':datum.value==0?'0':datum.value==2000?'2000':datum.value==4000?'4000':''","labelPadding":5,"title":"Δv  [km s⁻¹]","titleFontSize":14,"titlePadding":5,"tickSize":-4}},"y":{"field":"f","type":"quantitative","scale":{"domain":[-0.08,1.3],"nice":false,"zero":false},"axis":{"orient":"left","values":[0,0.1,0.2,0.3,0.4,0.5,0.6,0.7,0.8,0.9,1,1.1,1.2],"labelExpr":"datum.value==0?'0':datum.value==0.5?'0.5':datum.value==1?'1':''","tickSize":-3,"labelPadding":6,"title":null}},"detail":{"field":"g"}}},
{"data":{"name":"flux"},"transform":[{"filter":"datum.p==6 && datum.m"}],"mark":{"type":"line","interpolate":"step-after","color":"#777","strokeDash":[1,1.5],"strokeWidth":1,"clip":true},"encoding":{"x":{"field":"v","type":"quantitative","scale":{"domain":[-4000,4000],"nice":false},"axis":{"orient":"top","values":[-4000,-3500,-3000,-2500,-2000,-1500,-1000,-500,0,500,1000,1500,2000,2500,3000,3500,4000],"labels":false,"title":null,"tickSize":-4}},"y":{"field":"f","type":"quantitative","scale":{"domain":[-0.08,1.3],"nice":false,"zero":false},"axis":{"orient":"right","values":[0,0.1,0.2,0.3,0.4,0.5,0.6,0.7,0.8,0.9,1,1.1,1.2],"labels":false,"tickSize":-3,"title":null}},"detail":{"field":"g"}}},
{"data":{"name":"err"},"transform":[{"filter":"datum.p==6"}],"mark":{"type":"line","color":"#ff4444","strokeDash":[5,3],"strokeWidth":1,"clip":true},"encoding":{"x":{"field":"v","type":"quantitative","axis":null},"y":{"field":"e","type":"quantitative","axis":null}}},
{"data":{"name":"one"},"mark":{"type":"text","align":"left","fontSize":11,"lineHeight":10.5},"encoding":{"x":{"datum":-3700,"axis":null},"y":{"datum":0.87,"axis":null},"text":{"value":["J0912+3056 at","z = 1.622 & d = 239 kpc"]}}},
{"data":{"name":"one"},"mark":{"type":"text","align":"left","fontSize":11,"dy":21},"encoding":{"x":{"datum":-3700,"axis":null},"y":{"datum":0.87,"axis":null},"text":{"value":"log L"}}},
{"data":{"name":"one"},"mark":{"type":"text","align":"left","fontSize":7,"dx":24,"dy":26.5},"encoding":{"x":{"datum":-3700,"axis":null},"y":{"datum":0.87,"axis":null},"text":{"value":"bol"}}},
{"data":{"name":"one"},"mark":{"type":"text","align":"left","fontSize":11,"dx":34,"dy":21},"encoding":{"x":{"datum":-3700,"axis":null},"y":{"datum":0.87,"axis":null},"text":{"value":"= 46.5"}}}
]}
]
}
